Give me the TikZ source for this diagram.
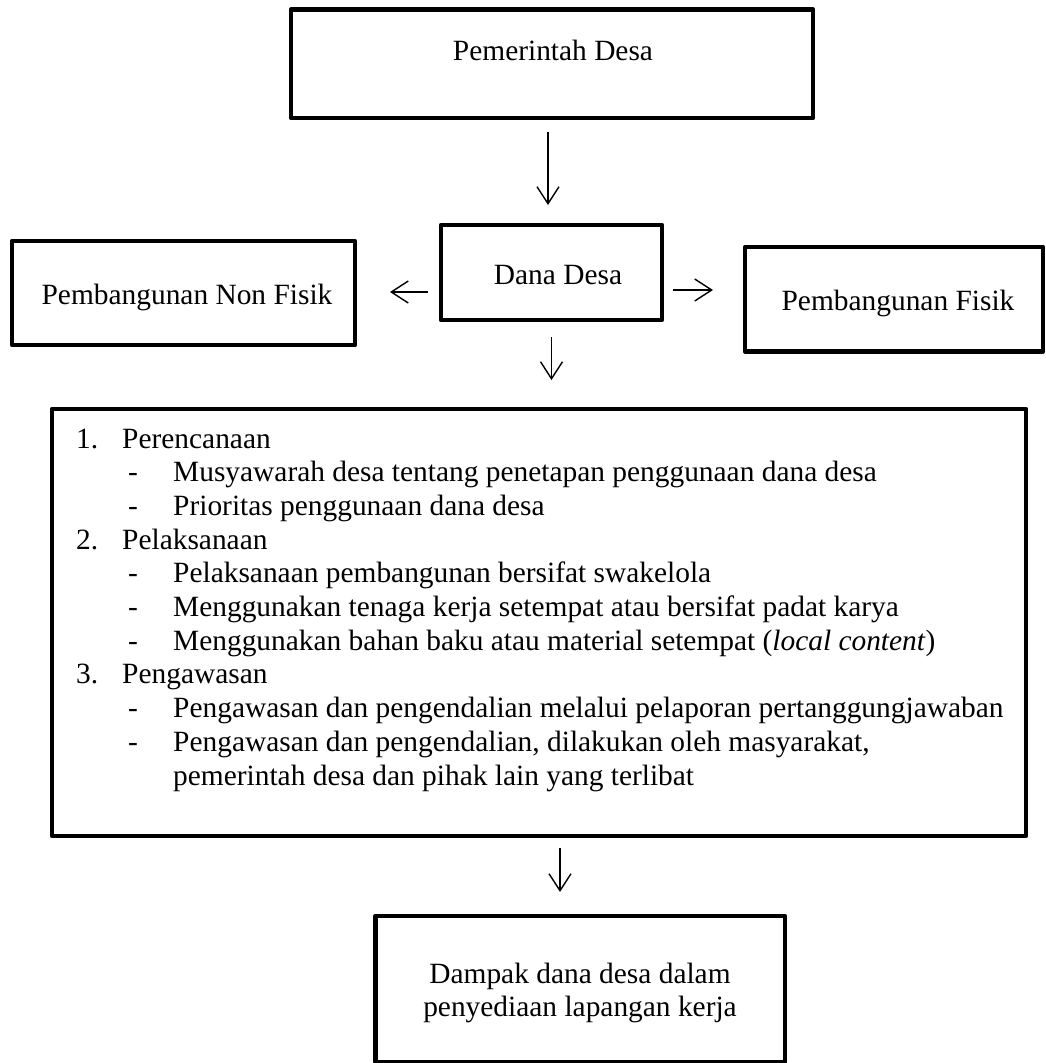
\documentclass[tikz,border=0pt]{standalone}
\usepackage{fontspec}
\setmainfont{Liberation Serif}
\usetikzlibrary{arrows.meta}
\begin{document}
\begin{tikzpicture}[x=1pt,y=-1pt,
  box/.style={draw, line width=4.5pt, line join=round, inner sep=0pt},
  lbl/.style={inner sep=0pt, anchor=base, font=\fontsize{29.4}{33.7}\selectfont},
  row/.style={inner sep=0pt, anchor=base west, font=\fontsize{29.4}{33.7}\selectfont},
  arr/.style={line width=1.4pt, -{Straight Barb[length=17pt,width=22pt,line width=1.4pt]}}]
\useasboundingbox (0,0) rectangle (1045,1063);
% boxes
\node[box, minimum width=522pt, minimum height=108.5pt] (pem) at (552,63.75) {};
\node[box, minimum width=343pt, minimum height=104pt] (nonf) at (183.5,293) {};
\node[box, minimum width=221pt, minimum height=95pt] (dana) at (551.5,272.5) {};
\node[box, minimum width=298pt, minimum height=104.5pt] (fis) at (894,299.25) {};
\node[box, minimum width=974pt, minimum height=427pt] (big) at (539,622.5) {};
\node[box, minimum width=409.5pt, minimum height=146pt] (damp) at (580.25,989) {};
% box labels
\node[lbl] (tpem) at (553,60) {Pemerintah Desa};
\node[lbl] (tnonf) at (187,304) {Pembangunan Non Fisik};
\node[lbl] (tdana) at (558,284) {Dana Desa};
\node[lbl] (tfis) at (898,310) {Pembangunan Fisik};
\node[lbl] (tdamp1) at (580,983) {Dampak dana desa dalam};
\node[lbl] (tdamp2) at (580,1016) {penyediaan lapangan kerja};
% list
\node[row] (n1) at (76,448) {1.};
\node[row] (h1) at (122,448) {Perencanaan};
\node[row] (d11) at (128,481.7) {-};
\node[row] (s11) at (173,481.7) {Musyawarah desa tentang penetapan penggunaan dana desa};
\node[row] (d12) at (128,515.4) {-};
\node[row] (s12) at (173,515.4) {Prioritas penggunaan dana desa};
\node[row] (n2) at (76,549.1) {2.};
\node[row] (h2) at (122,549.1) {Pelaksanaan};
\node[row] (d21) at (128,582.8) {-};
\node[row] (s21) at (173,582.8) {Pelaksanaan pembangunan bersifat swakelola};
\node[row] (d22) at (128,616.5) {-};
\node[row] (s22) at (173,616.5) {Menggunakan tenaga kerja setempat atau bersifat padat karya};
\node[row] (d23) at (128,650.2) {-};
\node[row] (s23) at (173,650.2) {Menggunakan bahan baku atau material setempat (\textit{local content})};
\node[row] (n3) at (76,683.9) {3.};
\node[row] (h3) at (122,683.9) {Pengawasan};
\node[row] (d31) at (128,717.6) {-};
\node[row] (s31) at (173,717.6) {Pengawasan dan pengendalian melalui pelaporan pertanggungjawaban};
\node[row] (d32) at (128,751.3) {-};
\node[row] (s32) at (173,751.3) {Pengawasan dan pengendalian, dilakukan oleh masyarakat,};
\node[row] (s33) at (173,785) {pemerintah desa dan pihak lain yang terlibat};
% arrows
\draw[arr, shorten <=11.75pt, shorten >=17.75pt] ([xshift=-4pt]pem.south) -- ([xshift=-4pt]pem.south |- dana.north);
\draw[arr, shorten <=10.75pt, shorten >=32.75pt] ([yshift=-19.5pt]dana.west) -- ([yshift=-19.5pt]dana.west -| nonf.east);
\draw[arr, shorten <=8.75pt, shorten >=29.75pt] ([yshift=-17.5pt]dana.east) -- ([yshift=-17.5pt]dana.east -| fis.west);
\draw[arr, shorten <=14.75pt, shorten >=26.75pt] (dana.south) -- (dana.south |- big.north);
\draw[arr, shorten <=9.75pt, shorten >=21.75pt] ([xshift=21pt]big.south) -- ([xshift=21pt]big.south |- damp.north);
\end{tikzpicture}
\end{document}
